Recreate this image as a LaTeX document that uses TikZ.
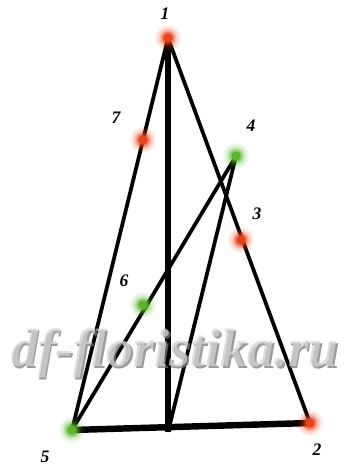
\documentclass[tikz,border=0pt]{standalone}
\usepackage{fontspec}
\setmainfont{Liberation Serif}
\usetikzlibrary{positioning}
\definecolor{dotred}{HTML}{E8431C}
\definecolor{dotgreen}{HTML}{5DB52F}
\definecolor{wmgray}{HTML}{D2D2D2}
\definecolor{wmdark}{HTML}{7A7A7A}

\begin{document}
\begin{tikzpicture}[x=0.03cm, y=-0.03cm,
    pt/.style={circle, inner sep=0pt, minimum size=0pt},
    stick/.style={line width=3.2pt, color=black},
    rod/.style={line width=5.5pt, color=black},
    num/.style={font=\fontsize{15}{15}\selectfont\bfseries\itshape},
    mark/.style={font=\fontsize{46}{46}\selectfont\bfseries\itshape, color=#1, opacity=0.75}
]
\useasboundingbox (0,0) rectangle (357,467);

% points of the frame
\node[pt] (p1) at (168,38) {};
\node[pt] (p2) at (310,423) {};
\node[pt] (p3) at (241,240) {};
\node[pt] (p4) at (236,156) {};
\node[pt] (p5) at (72,430) {};
\node[pt] (p6) at (143,305) {};
\node[pt] (p7) at (143,140) {};
\node[pt] (pb) at (168,432) {};

% sticks
\draw[stick] (p1) -- (p5);
\draw[stick] (p1) -- (p2);
\draw[stick] (p5) -- (p4);
\draw[stick] (p4) -- (pb);
\draw[rod] (p1) -- (pb);
\draw[rod] (p5) -- (p2);

% glowing dots
\foreach \p/\c in {p1/dotred, p2/dotred, p3/dotred, p7/dotred, p4/dotgreen, p5/dotgreen, p6/dotgreen} {
  \foreach \r/\o in {11pt/0.10, 9pt/0.15, 7pt/0.25, 5.5pt/0.45} {
    \fill[\c, opacity=\o] (\p) circle (\r);
  }
  \fill[\c] (\p) circle (4pt);
}

% numbers
\node[num] (n1) at (165,14) {1};
\node[num] (n2) at (317,450) {2};
\node[num] (n3) at (257,214) {3};
\node[num] (n4) at (251,126) {4};
\node[num] (n5) at (45,457) {5};
\node[num] (n6) at (124,281) {6};
\node[num] (n7) at (116,118) {7};

% watermark
\node[mark=wmdark] (wm0) at (176.5,355) {df-floristika.ru};
\node[mark=wmgray] (wm) at (175,353.5) {df-floristika.ru};
\end{tikzpicture}
\end{document}
